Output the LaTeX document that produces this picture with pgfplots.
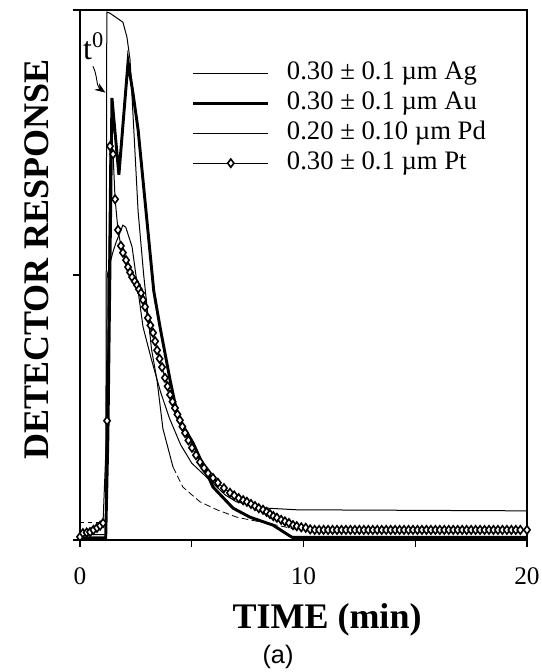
\documentclass[border=0pt]{standalone}
\usepackage{fontspec}
\setmainfont{Liberation Serif}
\newfontfamily\arialfont{Liberation Sans}
\usepackage{pgfplots}
\pgfplotsset{compat=1.18}
\usetikzlibrary{arrows.meta}
\begin{document}
\begin{tikzpicture}
\begin{axis}[
 scale only axis, width=335.25pt, height=397.5pt,
 xmin=0, xmax=20, ymin=0, ymax=100,
 axis line style={line width=0.9pt},
 xtick={0,5,10,15,20}, xticklabels={0,,10,,20},
 ytick={0,50,100}, yticklabels={},
 tick align=outside, xtick pos=bottom, ytick pos=left,
 major tick length=5pt, tick style={line width=0.8pt, black},
 xticklabel style={font=\fontsize{19}{19}\selectfont, anchor=base, yshift=-28.5pt},
 xlabel={TIME (min)},
 xlabel style={font=\fontsize{27}{27}\selectfont\bfseries, at={(axis description cs:0.5526,0)}, anchor=base, yshift=-66pt},
 ylabel={DETECTOR RESPONSE},
 ylabel style={font=\fontsize{27}{27}\selectfont\bfseries, at={(axis description cs:-0.0962,0.529)}, anchor=center},
 legend style={at={(axis description cs:0.2506,0.906)}, anchor=north west, draw=none, fill=none,
   inner sep=0pt, outer sep=0pt, row sep=2.5pt, font=\fontsize{20}{24}\selectfont,
   nodes={inner sep=1pt, text height=14pt, text depth=4pt},
   /tikz/every odd column/.style={column sep=12pt}},
 legend cell align=left,
 legend image code/.code={\draw[mark repeat=2,mark phase=2,#1] plot coordinates {(0pt,0pt) (28pt,0pt) (56pt,0pt)};},
]
% Ag
\addplot[black, line width=0.75pt] coordinates {
(0,1.0) (1.15,1.0) (1.22,50) (1.45,54) (1.6,56) (1.92,59.4) (2.05,59) (2.33,55.3) (2.82,40.2)
(3.2,34) (3.6,28) (4.0,23) (4.5,18) (5.0,14.5) (5.8,11.3) (6.5,8.5) (7.0,7.2) (8.0,6.3) (8.4,6.0) (9.7,5.7) (20,5.5)};
\addlegendentry{0.30 ± 0.1 µm Ag}
% Au
\addplot[black, line width=2.2pt] coordinates {
(0,0.4) (1.15,0.4) (1.25,20) (1.43,83.4) (1.74,68.9) (2.15,90.2) (2.37,84.3) (2.6,77.4) (3.3,47) (3.58,40.2)
(4.03,30.2) (4.38,23.2) (5.06,18.3) (5.95,10) (6.85,6) (7.61,4.3) (8.64,2.8) (9.3,1.0) (9.5,0.5) (20,0.5)};
\addlegendentry{0.30 ± 0.1 µm Au}
% Pd
\addplot[black, line width=0.75pt] coordinates {
(1.15,3.4) (1.2,99.6) (1.34,99.4) (1.92,97.7) (2.10,94.9) (2.24,90.6) (2.4,78) (2.6,62) (2.85,50) (3.0,44)
(3.2,36) (3.45,30) (3.71,21) (4.16,13.8)};
\addlegendentry{0.20 ± 0.10 µm Pd}
% Pt
\addplot[black, line width=0.75pt, mark=diamond*, mark size=3.1pt, mark options={fill=white, line width=1.2pt, solid}] coordinates {
(0,0.6) (0.13,1.3) (0.3,1.4) (0.45,1.5) (0.6,1.9) (0.76,2.3) (0.9,2.7) (1.03,3.2) (1.21,22.5) (1.34,74.3)
(1.48,72.8) (1.57,64.3) (1.70,58.5) (1.83,55.5) (1.92,54.2) (2.06,52.8) (2.15,51.5) (2.24,50.5) (2.33,49.6)
(2.45,48.8) (2.55,48.1) (2.64,47.3) (2.73,46.6) (2.82,45.3) (2.91,44.0) (3.04,41.9) (3.15,40.5) (3.27,39.1)
(3.36,37.5) (3.45,35.8) (3.56,34.2) (3.67,32.6) (3.80,30.6) (3.92,29) (4.03,27.4) (4.14,26.1) (4.25,24.9)
(4.36,23.7) (4.47,22.6) (4.58,21.4) (4.70,20.2) (4.85,18.8) (5.01,17.4) (5.19,16) (5.37,14.7) (5.55,13.6)
(5.73,12.6) (5.95,11.7) (6.17,10.8) (6.44,9.8) (6.71,8.9) (6.9,8.4) (7.1,7.9) (7.3,7.5) (7.47,7.2) (7.65,6.8)
(7.83,6.4) (8.0,6.0) (8.19,5.7) (8.35,5.3) (8.5,4.9) (8.65,4.5) (8.81,4.2) (9.0,3.8) (9.17,3.5) (9.35,3.2)
(9.53,2.8) (9.7,2.6) (9.9,2.4) (10.1,2.3) (10.3,2.0) (10.5,1.9) (10.7,1.9) (10.9,1.9) (11.1,1.9) (11.3,1.9)
(11.5,1.9) (11.7,1.9) (11.9,1.9) (12.1,1.9) (12.3,1.9) (12.5,1.9) (12.7,1.9) (12.9,1.9) (13.1,1.9) (13.3,1.9)
(13.5,1.9) (13.7,1.9) (13.9,1.9) (14.1,1.9) (14.3,1.9) (14.5,1.9) (14.7,1.9) (14.9,1.9) (15.1,1.9) (15.3,1.9)
(15.5,1.9) (15.7,1.9) (15.9,1.9) (16.1,1.9) (16.3,1.9) (16.5,1.9) (16.7,1.9) (16.9,1.9) (17.1,1.9) (17.3,1.9)
(17.5,1.9) (17.7,1.9) (17.9,1.9) (18.1,1.9) (18.3,1.9) (18.5,1.9) (18.7,1.9) (18.9,1.9) (19.1,1.9) (19.3,1.9)
(19.5,1.9) (19.7,1.9) (20,1.9)};
\addlegendentry{0.30 ± 0.1 µm Pt}
% Pd dashed parts
\addplot[black, line width=0.6pt, dashed, forget plot] coordinates {(0,3.4) (1.15,3.4)};
\addplot[black, line width=0.6pt, dash pattern=on 5pt off 2.5pt, forget plot] coordinates {
(4.16,13.8) (4.6,10) (5.37,7.2) (6.13,5.7) (7.02,4.3) (7.6,3.8) (8.8,2.8) (9.8,1.9)};
% t0 annotation
\node[font=\fontsize{24}{24}\selectfont, anchor=base west, inner sep=0pt] at (axis cs:0.13,90.6) {t\textsuperscript{0}};
\draw[-{Stealth[length=8pt,width=6pt]}, line width=0.7pt] (axis cs:0.58,89.4) to[out=-65,in=145] (axis cs:1.14,84.4);
\coordinate (SW) at (rel axis cs:0,0);
\end{axis}
\node[font=\arialfont\fontsize{19}{19}\selectfont] at ([shift={(148.5pt,-87.75pt)}]SW) {(a)};
\pgfresetboundingbox
\path ([shift={(-60pt,-99pt)}]SW) rectangle ++(406.5pt,504pt);
\end{tikzpicture}
\end{document}
